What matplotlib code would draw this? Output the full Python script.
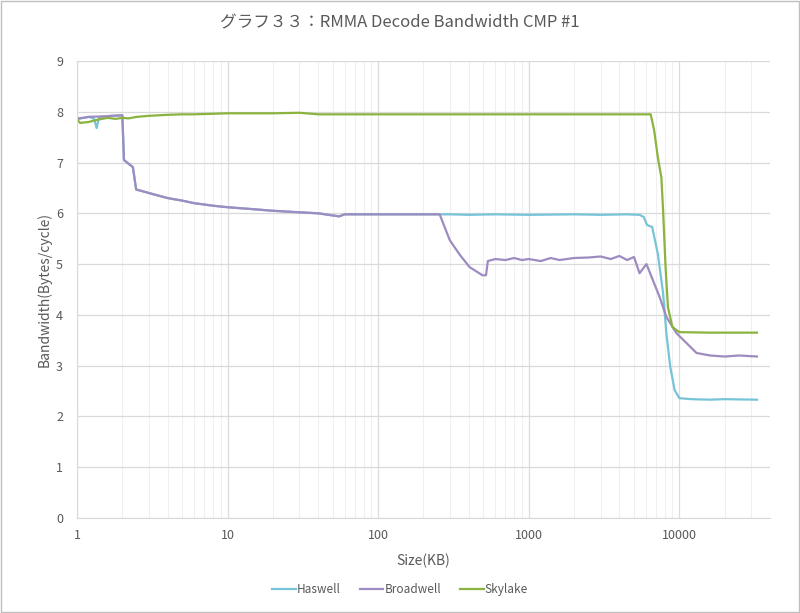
import matplotlib.pyplot as plt
from matplotlib.ticker import LogLocator, FixedLocator, NullFormatter

plt.rcParams['font.family'] = ['Noto Sans CJK JP', 'DejaVu Sans']

# Haswell: same as Broadwell up to 256KB, stays near 6 until ~5.5MB
haswell_x = [1, 1.1, 1.2, 1.3, 1.35, 1.4, 1.5, 1.7, 2.0, 2.05, 2.35, 2.47, 3, 4, 5, 6, 8, 10,
             15, 20, 30, 40, 55, 60, 100, 150, 256, 300, 400, 600, 1000, 2000, 3000, 4500,
             5440, 5800, 6100, 6600, 7200, 7800, 8200, 8700, 9300, 10000, 12000, 16000,
             20000, 32768]
haswell_y = [7.85, 7.88, 7.9, 7.86, 7.68, 7.88, 7.9, 7.92, 7.93, 7.05, 6.91, 6.47, 6.4, 6.3,
             6.25, 6.2, 6.15, 6.12, 6.08, 6.05, 6.02, 6.0, 5.94, 5.98, 5.98, 5.98, 5.98, 5.98,
             5.97, 5.98, 5.97, 5.98, 5.97, 5.98, 5.97, 5.93, 5.77, 5.73, 5.2, 4.43, 3.64, 2.98,
             2.52, 2.36, 2.34, 2.33, 2.34, 2.33]

broadwell_x = [1, 1.1, 1.2, 1.5, 1.7, 2.0, 2.05, 2.35, 2.47, 3, 4, 5, 6, 8, 10, 15, 20, 30,
               40, 55, 60, 100, 150, 256, 299, 349, 405, 493, 520, 535, 600, 700, 800, 900,
               1000, 1200, 1400, 1600, 2000, 2500, 3000, 3500, 4000, 4500, 5000, 5440, 6050,
               7400, 8200, 9570, 11200, 13000, 16000, 20000, 25000, 32768]
broadwell_y = [7.87, 7.88, 7.9, 7.91, 7.92, 7.93, 7.05, 6.91, 6.47, 6.4, 6.3, 6.25, 6.2, 6.15,
               6.12, 6.08, 6.05, 6.02, 6.0, 5.94, 5.98, 5.98, 5.98, 5.98, 5.47, 5.18, 4.94,
               4.78, 4.78, 5.06, 5.1, 5.08, 5.12, 5.08, 5.1, 5.06, 5.12, 5.08, 5.12, 5.13,
               5.15, 5.1, 5.16, 5.08, 5.14, 4.82, 5.0, 4.35, 3.96, 3.64, 3.44, 3.25, 3.2,
               3.18, 3.2, 3.18]

skylake_x = [1, 1.05, 1.2, 1.4, 1.6, 1.8, 2, 2.2, 2.5, 3, 4, 5, 6, 8, 10, 20, 30, 40, 100,
             1000, 6450, 6800, 7200, 7600, 7800, 8100, 8400, 9000, 10000, 16000, 32768]
skylake_y = [7.85, 7.78, 7.8, 7.85, 7.88, 7.86, 7.88, 7.87, 7.9, 7.92, 7.94, 7.95, 7.95,
             7.96, 7.97, 7.97, 7.98, 7.95, 7.95, 7.95, 7.95, 7.64, 7.1, 6.7, 6.06, 4.94,
             4.15, 3.76, 3.66, 3.65, 3.65]

text_color = '#595959'
grid_color = '#D9D9D9'

fig = plt.figure(figsize=(8, 6.13), dpi=100)
ax = fig.add_axes([0.09625, 0.155, 0.86625, 0.7455])

ax.plot(haswell_x, haswell_y, color='#77C4D8', lw=1.6, label='Haswell')
ax.plot(broadwell_x, broadwell_y, color='#9E8BC0', lw=1.6, label='Broadwell')
ax.plot(skylake_x, skylake_y, color='#8AB33F', lw=1.6, label='Skylake')

ax.set_xscale('log')
ax.set_xlim(1, 40000)
ax.set_ylim(0, 9)
ax.xaxis.set_major_locator(FixedLocator([1, 10, 100, 1000, 10000]))
ax.xaxis.set_major_formatter(plt.FuncFormatter(lambda v, p: f'{int(v)}'))
ax.xaxis.set_minor_locator(LogLocator(base=10, subs=range(2, 10), numticks=20))
ax.xaxis.set_minor_formatter(NullFormatter())
ax.set_yticks(range(0, 10))

ax.grid(True, which='major', axis='y', color=grid_color, lw=0.9)
ax.grid(True, which='major', axis='x', color='#DCDCDC', lw=0.9)
ax.grid(True, which='minor', axis='x', color='#F0F0F0', lw=0.8)
ax.set_axisbelow(True)

for s in ['top', 'right']:
    ax.spines[s].set_visible(False)
ax.spines['left'].set_color(grid_color)
ax.spines['bottom'].set_color(grid_color)
ax.tick_params(which='both', length=0, colors=text_color, labelsize=9)
ax.tick_params(axis='x', pad=8)
ax.tick_params(axis='y', pad=10)

ax.set_xlabel('Size(KB)', color=text_color, fontsize=10, labelpad=8)
ax.set_ylabel('Bandwidth(Bytes/cycle)', color=text_color, fontsize=10, labelpad=3)
fig.text(0.5, 0.963, 'グラフ３３：RMMA Decode Bandwidth CMP #1', ha='center', va='center',
         color=text_color, fontsize=12)

leg = fig.legend(loc='center', bbox_to_anchor=(0.5, 0.038), ncol=3, frameon=False,
                 fontsize=8.5, handlelength=2.0, handletextpad=0.1, columnspacing=1.6)
for t in leg.get_texts():
    t.set_color(text_color)

# frame around the whole chart
fig.patches.append(plt.Rectangle((0.001, 0.001), 0.998, 0.998, transform=fig.transFigure,
                                 fill=False, edgecolor='#BFBFBF', lw=1))

fig.savefig('out.png', dpi=100)
